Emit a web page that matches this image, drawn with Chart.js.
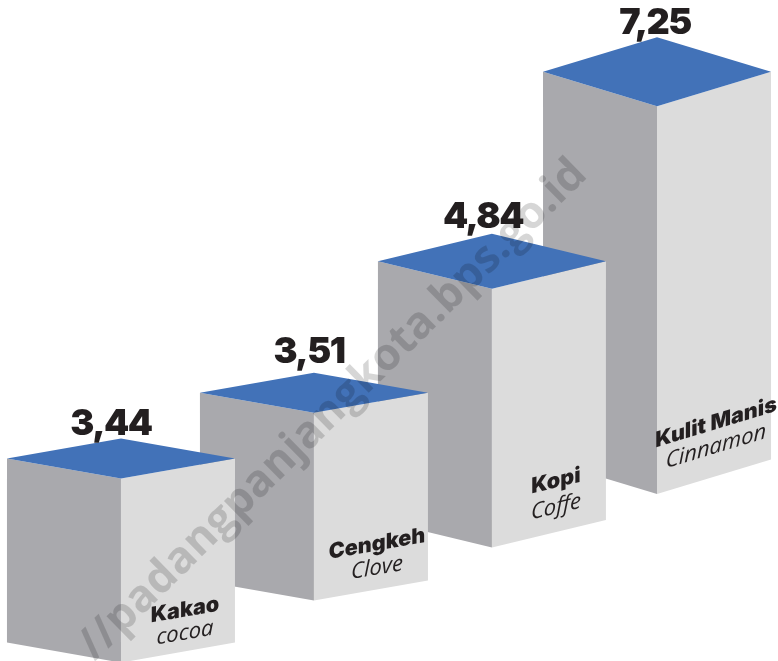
<!DOCTYPE html>
<html>
<head>
<meta charset="utf-8">
<style>
  html, body { margin: 0; padding: 0; background: #ffffff; }
  #chartBox { width: 778px; height: 661px; }
</style>
<script src="https://cdn.jsdelivr.net/npm/chart.js@4/dist/chart.umd.min.js"></script>
</head>
<body>
<div id="chartBox"><canvas id="barChart" width="778" height="661"></canvas></div>
<script>
const categories = ['Kakao', 'Cengkeh', 'Kopi', 'Kulit Manis'];
const categoriesEn = ['cocoa', 'Clove', 'Coffe', 'Cinnamon'];
const values = [3.44, 3.51, 4.84, 7.25];

// the infographic stairs its boxes, in axis units
const stairX = [0, 1.08, 2.076, 3];
const stairY = [-0.03, 1.13, 2.12, 3.12];
const topDepth = [0.374, 0.374, 0.514, 0.645];

const watermark = '//padangpanjangkota.bps.go.id';

// label nudges from the box corners, pixels
const valueNudge = [-10, -5, -9, -2];
const valueGap = [3.5, 10, 6, 3];
const nameNudge = [64, 63, 64, 59];
const nameLift = [46, 50, 60, 65];
const nameGap = [23, 24, 26, 24];

const bar3dPlugin = {
  id: 'bar3d',
  afterDatasetsDraw(chart) {
    const ctx = chart.ctx;
    const yScale = chart.scales.y;
    const unit = yScale.getPixelForValue(0) - yScale.getPixelForValue(1);
    const bars = chart.getDatasetMeta(0).data;

    // back to front, the left box sits in front of the next one
    for (let i = bars.length - 1; i >= 0; i--) {
      const bar = bars[i];
      const half = bar.width / 2;
      const depth = topDepth[i] * unit;
      const face = (points, color) => {
        ctx.beginPath();
        points.forEach((p, n) => (n ? ctx.lineTo(p[0], p[1]) : ctx.moveTo(p[0], p[1])));
        ctx.closePath();
        ctx.fillStyle = color;
        ctx.fill();
      };
      face([[bar.x - half, bar.y - depth], [bar.x, bar.y], [bar.x, bar.base], [bar.x - half, bar.base - depth]], '#a9a9ad');
      face([[bar.x, bar.y], [bar.x + half, bar.y - depth], [bar.x + half, bar.base - depth], [bar.x, bar.base]], '#dcdcdc');
      face([[bar.x - half, bar.y - depth], [bar.x, bar.y - 2 * depth], [bar.x + half, bar.y - depth], [bar.x, bar.y]], '#4272b8');
    }

    ctx.save();
    ctx.translate(333, 410);
    ctx.rotate(-44.5 * Math.PI / 180);
    ctx.font = '700 44.5px "Open Sans"';
    ctx.textAlign = 'center';
    ctx.textBaseline = 'middle';
    ctx.fillStyle = 'rgba(0,0,0,0.16)';
    ctx.fillText(watermark, 0, 0);
    ctx.restore();

    bars.forEach((bar, i) => {
      const half = bar.width / 2;
      const depth = topDepth[i] * unit;

      ctx.fillStyle = '#231f20';
      ctx.textAlign = 'center';
      ctx.textBaseline = 'alphabetic';
      ctx.font = '900 36px Inter';
      ctx.letterSpacing = '-1.5px';
      ctx.fillText(values[i].toFixed(2).replace('.', ','), bar.x + valueNudge[i], bar.y - 2 * depth - valueGap[i]);
      ctx.letterSpacing = '0px';

      // names follow the slope of the right face
      ctx.save();
      ctx.transform(1, -depth / half, 0, 1, bar.x + nameNudge[i], bar.base - nameLift[i]);
      ctx.font = '900 21.5px Inter';
      ctx.fillText(categories[i], 0, 0);
      ctx.font = 'italic 400 22px "Open Sans"';
      ctx.fillText(categoriesEn[i], 0, nameGap[i]);
      ctx.restore();
    });
  }
};

const myChart = new Chart(document.getElementById('barChart').getContext('2d'), {
  type: 'bar',
  data: {
    datasets: [{
      label: 'Kakao, Cengkeh, Kopi, Kulit Manis',
      data: values.map((v, i) => ({ x: stairX[i], y: [stairY[i], stairY[i] + v] })),
      backgroundColor: 'transparent',
      borderWidth: 0,
      barThickness: 228,
      barPercentage: 1,
      categoryPercentage: 1,
    }],
  },
  options: {
    responsive: false,
    animation: false,
    layout: { padding: 0 },
    plugins: { legend: { display: false }, title: { display: false }, tooltip: { enabled: false } },
    scales: {
      x: { type: 'linear', display: false, offset: false, min: -0.677, max: 3.677 },
      y: { type: 'linear', display: false, min: 0, max: 12.355 },
    },
  },
  plugins: [bar3dPlugin],
});
</script>
</body>
</html>
